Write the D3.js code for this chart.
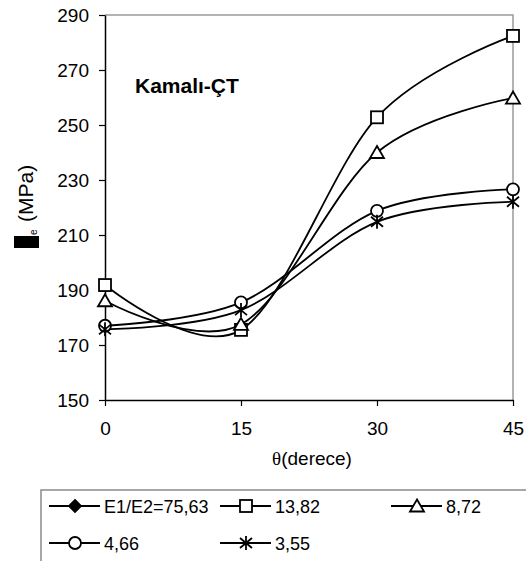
<!DOCTYPE html>
<html>
<head>
<meta charset="utf-8">
<script src="https://cdn.jsdelivr.net/npm/d3@7"></script>
<style>
  html, body { margin: 0; padding: 0; background: #fff; }
  svg { display: block; font-family: "Liberation Sans", Arial, sans-serif; }
</style>
</head>
<body>
<svg id="chart" width="526" height="561"></svg>
<script>
// ---- data ----
const angles = [0, 15, 30, 45];
const xTicks = [0, 15, 30, 45];
const yTicks = [150, 170, 190, 210, 230, 250, 270, 290];
const seriesNames = ["E1/E2=75,63", "13,82", "8,72", "4,66", "3,55"];
const seriesMarkers = ["diamond", "square", "triangle", "circle", "star"];
const s7563 = [];                          // no plotted points visible
const s1382 = [191.8, 175.5, 252.8, 282.4];
const s872  = [186.1, 177.5, 240.0, 259.8];
const s466  = [177.0, 185.5, 218.8, 226.6];
const s355  = [175.7, 182.7, 214.8, 222.1];
const seriesValues = [s7563, s1382, s872, s466, s355];
const titleText = "Kamalı-ÇT";
const xLabel = "(derece)";
const yLabel = "(MPa)";

// ---- layout ----
const svg = d3.select("#chart");
const L = 105, R = 513, T = 15, B = 400;
const x = d3.scaleLinear().domain([0, 45]).range([L, R]);
const y = d3.scaleLinear().domain([150, 290]).range([B, T]);

// frame (top & right gray)
svg.append("path")
  .attr("d", `M${L},${T}H${R}V${B}`)
  .attr("fill", "none").attr("stroke", "#9a9a9a").attr("stroke-width", 1.5);

// axes
const yAxis = svg.append("g").attr("transform", `translate(${L},0)`)
  .call(d3.axisLeft(y).tickValues(yTicks).tickSize(6).tickPadding(10).tickSizeOuter(0));
const xAxis = svg.append("g").attr("transform", `translate(0,${B})`)
  .call(d3.axisBottom(x).tickValues(xTicks).tickSize(6).tickPadding(16).tickSizeOuter(0));
[yAxis, xAxis].forEach(a => {
  a.select(".domain").attr("stroke", "#000").attr("stroke-width", 1.5);
  a.selectAll(".tick line").attr("stroke", "#000").attr("stroke-width", 1.2);
  a.selectAll("text").attr("font-size", 19).attr("fill", "#000")
    .attr("font-family", "'Liberation Sans', Arial, sans-serif");
});

// x-axis label
const xl = svg.append("text").attr("x", 312).attr("y", 465)
  .attr("text-anchor", "middle").attr("font-size", 19);
xl.append("tspan").attr("font-family", "'Liberation Serif', serif").text("θ");
xl.append("tspan").text(xLabel);

// y-axis label (rotated): black glyph box, subscript e, (MPa)
const yl = svg.append("g").attr("transform", "translate(33,248) rotate(-90)");
yl.append("rect").attr("x", 0).attr("y", -19).attr("width", 12).attr("height", 25).attr("fill", "#000");
yl.append("text").attr("x", 13).attr("y", 4).attr("font-size", 10).text("e");
yl.append("text").attr("x", 26).attr("y", 0).attr("font-size", 21).text(yLabel);

// title
svg.append("text").attr("x", 135).attr("y", 93)
  .attr("font-size", 21).attr("font-weight", "bold").text(titleText);

// markers
function drawMarker(g, type, cx, cy) {
  const st = { fill: "#fff", stroke: "#000", "stroke-width": 1.8 };
  let m;
  if (type === "square") {
    m = g.append("rect").attr("x", cx - 6).attr("y", cy - 6).attr("width", 12).attr("height", 12);
  } else if (type === "triangle") {
    m = g.append("path").attr("d", `M${cx},${cy - 6.5}L${cx + 7},${cy + 5.5}L${cx - 7},${cy + 5.5}Z`);
  } else if (type === "circle") {
    m = g.append("circle").attr("cx", cx).attr("cy", cy).attr("r", 6);
  } else if (type === "diamond") {
    m = g.append("path").attr("d", `M${cx},${cy - 6}L${cx + 6},${cy}L${cx},${cy + 6}L${cx - 6},${cy}Z`);
    st.fill = "#000";
  } else if (type === "star") {
    m = g.append("path").attr("d",
      `M${cx},${cy - 7}V${cy + 7}M${cx - 6},${cy - 5}L${cx + 6},${cy + 5}M${cx - 6},${cy + 5}L${cx + 6},${cy - 5}`);
    st.fill = "none";
  }
  Object.entries(st).forEach(([k, v]) => m.attr(k, v));
}

// series lines
const line = d3.line().x(d => x(d[0])).y(d => y(d[1])).curve(d3.curveCatmullRom.alpha(0));
const plot = svg.append("g");
seriesValues.forEach((vals, i) => {
  if (!vals.length) return;
  const pts = vals.map((v, j) => [angles[j], v]);
  plot.append("path").datum(pts).attr("d", line)
    .attr("fill", "none").attr("stroke", "#000").attr("stroke-width", 1.8);
});
seriesValues.forEach((vals, i) => {
  vals.forEach((v, j) => drawMarker(plot, seriesMarkers[i], x(angles[j]), y(v)));
});

// legend
const lg = svg.append("g");
lg.append("rect").attr("x", 41).attr("y", 490).attr("width", 520).attr("height", 100)
  .attr("fill", "#fff").attr("stroke", "#8a8a8a").attr("stroke-width", 1.5);
const colX = [49, 220, 391];
const rowY = [506, 543];
seriesNames.forEach((name, i) => {
  const cx = colX[i % 3], cy = rowY[Math.floor(i / 3)];
  lg.append("line").attr("x1", cx).attr("x2", cx + 51).attr("y1", cy).attr("y2", cy)
    .attr("stroke", "#000").attr("stroke-width", 2);
  drawMarker(lg, seriesMarkers[i], cx + 26, cy);
  lg.append("text").attr("x", cx + 55).attr("y", cy + 6.5).attr("font-size", 18).text(name);
});
</script>
</body>
</html>
